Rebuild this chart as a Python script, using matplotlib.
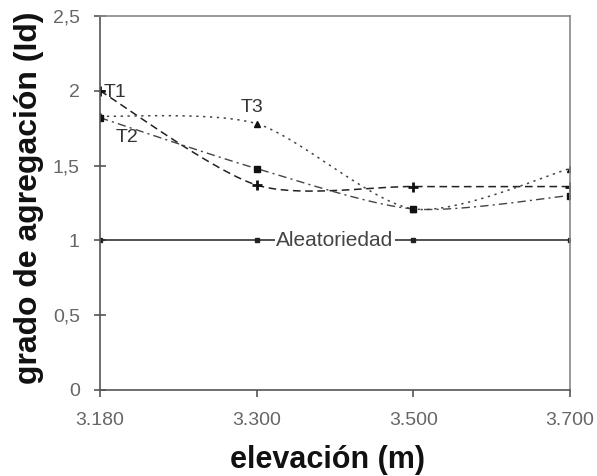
import matplotlib
matplotlib.use("Agg")
import matplotlib.pyplot as plt
import numpy as np

plt.rcParams['font.family'] = ['Liberation Sans', 'DejaVu Sans']

# datos
elevacion = ["3.180", "3.300", "3.500", "3.700"]
t1 = [2.00, 1.37, 1.36, 1.36]
t2 = [1.82, 1.48, 1.21, 1.30]
t3 = [1.83, 1.78, 1.21, 1.48]
aleatoriedad = [1, 1, 1, 1]
yticks = [0, 0.5, 1, 1.5, 2, 2.5]
ytick_labels = ["0", "0,5", "1", "1,5", "2", "2,5"]


def suavizar(y, n=30, k=0.8):
    # curva tipo Catmull-Rom entre los puntos (linea suavizada de Excel)
    x = np.arange(len(y), dtype=float)
    p = np.column_stack([x, y])
    p = np.vstack([p[0], p, p[-1]])
    out = []
    t = np.linspace(0, 1, n)[:, None]
    for i in range(1, len(p) - 2):
        p0, p1, p2, p3 = p[i - 1], p[i], p[i + 1], p[i + 2]
        m1 = k * (p2 - p0) / 2
        m2 = k * (p3 - p1) / 2
        h00 = 2 * t ** 3 - 3 * t ** 2 + 1
        h10 = t ** 3 - 2 * t ** 2 + t
        h01 = -2 * t ** 3 + 3 * t ** 2
        h11 = t ** 3 - t ** 2
        out.append(h00 * p1 + h10 * m1 + h01 * p2 + h11 * m2)
    c = np.vstack(out)
    return c[:, 0], c[:, 1]


fig = plt.figure(figsize=(5.97, 4.76), dpi=100)
ax = fig.add_axes([0.1675, 0.1807, 0.7873, 0.7857])

x = np.arange(len(elevacion))

sx, sy = suavizar(t1)
ax.plot(sx, sy, color='#222222', lw=1.1, ls=(0, (5, 3)))
ax.plot(x, t1, ls='none', marker='+', ms=7, mew=2, color='#111111')

sx, sy = suavizar(t2)
ax.plot(sx, sy, color='#444444', lw=1.0, ls=(0, (6, 3, 1.5, 3)))
ax.plot(x, t2, ls='none', marker='s', ms=5, color='#111111')

sx, sy = suavizar(t3)
ax.plot(sx, sy, color='#444444', lw=1.1, ls=(0, (1.5, 3)))
ax.plot(x, t3, ls='none', marker='^', ms=5, color='#111111')

ax.plot(x, aleatoriedad, color='#222222', lw=1.1, marker='s', ms=3.5)

ax.text(0.096, 1.99, "T1", fontsize=14, color='#333333', ha='center', va='center')
ax.text(0.17, 1.69, "T2", fontsize=14, color='#333333', ha='center', va='center')
ax.text(0.97, 1.89, "T3", fontsize=14, color='#333333', ha='center', va='center')
ax.text(1.5, 1.0, "Aleatoriedad", fontsize=15, color='#444444', ha='center', va='center',
        bbox=dict(facecolor='white', edgecolor='none', pad=1))

ax.set_xlim(0, 3)
ax.set_ylim(0, 2.5)
ax.set_xticks(x)
ax.set_xticklabels(elevacion)
ax.set_yticks(yticks)
ax.set_yticklabels(ytick_labels)

for s in ax.spines.values():
    s.set_color('#888888')
    s.set_linewidth(1.2)
ax.spines['left'].set_color('#555555')
ax.spines['bottom'].set_color('#555555')

ax.tick_params(axis='y', direction='inout', length=9, width=1.2, color='#555555',
               labelsize=14, labelcolor='#666666', pad=10)
ax.tick_params(axis='x', direction='out', length=5, width=1.2, color='#555555',
               labelsize=14, labelcolor='#666666', pad=10.5)

fig.text(327 / 597, 8 / 476, "elevación (m)", fontsize=22, fontweight='bold',
         color='#111111', ha='center', va='baseline')
fig.text(29 / 597, 0.584, "grado de agregación (Id)", fontsize=23, fontweight='bold',
         color='#111111', ha='center', va='center', rotation=90)

fig.savefig("out.png", dpi=100)
